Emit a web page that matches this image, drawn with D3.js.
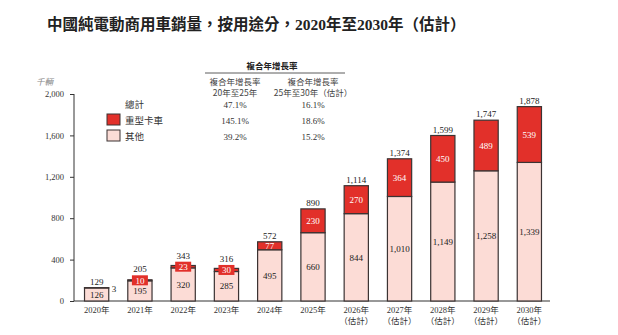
<!DOCTYPE html>
<head>
	<meta charset="utf-8">
	<script src="https://d3js.org/d3.v7.min.js"></script>
	<style>
		body { margin: 0; background: #fff; }
		text { font-family: "Liberation Serif", "Noto Sans CJK TC", serif; }
	</style>
</head>
<body>
	<div id="chart"></div>
	<script>

	var width = 618,
	height = 335;

	// data
	var years = ["2020年", "2021年", "2022年", "2023年", "2024年", "2025年", "2026年", "2027年", "2028年", "2029年", "2030年"];
	var estimated = [false, false, false, false, false, false, true, true, true, true, true];
	var heavyTrucks = [3, 10, 23, 30, 77, 230, 270, 364, 450, 489, 539];
	var others = [126, 195, 320, 285, 495, 660, 844, 1010, 1149, 1258, 1339];
	var totals = [129, 205, 343, 316, 572, 890, 1114, 1374, 1599, 1747, 1878];
	var yTicks = [0, 400, 800, 1200, 1600, 2000];

	var cagrRows = ["總計", "重型卡車", "其他"];
	var cagr2025 = ["47.1%", "145.1%", "39.2%"];
	var cagr2030 = ["16.1%", "18.6%", "15.2%"];

	var red = "#e2302a", pink = "#fcdcd6", edge = "#3b3333";
	var cjk = '"Noto Sans CJK TC", sans-serif';

	var svg = d3.select("#chart").append("svg")
	  .attr("width", width)
	  .attr("height", height);

	// title (serif digits, CJK fallback)
	svg.append("text")
		.attr("x", 47).attr("y", 30)
		.style("font-family", '"Liberation Serif", "Noto Sans CJK TC", serif')
		.style("font-size", "15.5px")
		.style("font-weight", "bold")
		.attr("fill", "#222")
		.text("中國純電動商用車銷量，按用途分，2020年至2030年（估計）");

	// scales
	var x = d3.scaleBand()
		.domain(years)
		.range([75, 551])
		.paddingInner(0.44)
		.paddingOuter(0.22);

	var y = d3.scaleLinear()
		.domain([0, 2000])
		.range([301, 94]);

	var fmt = d3.format(",");

	// y axis
	var yAxis = svg.append("g")
		.attr("transform", "translate(74,0)")
		.call(d3.axisLeft(y).tickValues(yTicks).tickSize(4).tickPadding(6).tickFormat(fmt));
	yAxis.select(".domain").attr("stroke", "#333").attr("d", "M0," + y(0) + "V" + y(2000));
	yAxis.selectAll(".tick line").attr("stroke", "#333");
	yAxis.selectAll(".tick text").style("font-size", "8.5px").attr("fill", "#333");

	svg.append("text")
		.attr("x", 36).attr("y", 85)
		.style("font-family", cjk)
		.style("font-size", "8.5px")
		.style("font-style", "italic")
		.attr("fill", "#888")
		.text("千輛");

	// x axis line
	svg.append("line")
		.attr("x1", 74).attr("x2", 550)
		.attr("y1", y(0)).attr("y2", y(0))
		.attr("stroke", "#333");

	var rows = years.map(function(d, i) {
		return { year: d, est: estimated[i], heavy: heavyTrucks[i], other: others[i], total: totals[i] };
	});

	var boxH = 10;
	function boxed(d) { return d.heavy >= 10 && d.heavy < 50; }
	function heavyMid(d) { return y(d.other + d.heavy / 2); }

	var bars = svg.append("g").selectAll("g")
		.data(rows)
		.join("g");

	// other (bottom)
	bars.append("rect")
		.attr("x", d => x(d.year))
		.attr("width", x.bandwidth())
		.attr("y", d => y(d.other))
		.attr("height", d => y(0) - y(d.other))
		.attr("fill", pink)
		.attr("stroke", edge)
		.attr("stroke-width", 1.2);

	// heavy trucks (top)
	bars.append("rect")
		.attr("x", d => x(d.year))
		.attr("width", x.bandwidth())
		.attr("y", d => y(d.other + d.heavy))
		.attr("height", d => y(d.other) - y(d.other + d.heavy))
		.attr("fill", red)
		.attr("stroke", edge)
		.attr("stroke-width", 1.2);

	// label boxes for thin red segments
	bars.filter(boxed)
		.append("rect")
		.attr("x", d => x(d.year) + x.bandwidth() / 2 - 8)
		.attr("y", d => heavyMid(d) - boxH / 2)
		.attr("width", 16)
		.attr("height", boxH)
		.attr("fill", red);

	// heavy labels
	bars.filter(d => d.heavy >= 10)
		.append("text")
		.attr("x", d => x(d.year) + x.bandwidth() / 2)
		.attr("y", d => heavyMid(d) + 3.2)
		.attr("text-anchor", "middle")
		.style("font-size", "9px")
		.attr("fill", "#fff")
		.text(d => fmt(d.heavy));

	bars.filter(d => d.heavy < 10)
		.append("text")
		.attr("x", d => x(d.year) + x.bandwidth() + 3)
		.attr("y", d => y(d.total) + 4)
		.style("font-size", "9px")
		.attr("fill", "#222")
		.text(d => fmt(d.heavy));

	// other labels
	bars.append("text")
		.attr("x", d => x(d.year) + x.bandwidth() / 2)
		.attr("y", d => y(d.other / 2) + 3.2)
		.attr("text-anchor", "middle")
		.style("font-size", "9px")
		.attr("fill", "#222")
		.text(d => fmt(d.other));

	// totals
	bars.append("text")
		.attr("x", d => x(d.year) + x.bandwidth() / 2)
		.attr("y", function(d) {
			var top = y(d.other + d.heavy);
			if (boxed(d)) top = Math.min(top, heavyMid(d) - boxH / 2);
			return top - 3;
		})
		.attr("text-anchor", "middle")
		.style("font-size", "9px")
		.attr("fill", "#222")
		.text(d => fmt(d.total));

	// x labels
	bars.append("text")
		.attr("x", d => x(d.year) + x.bandwidth() / 2)
		.attr("y", 313)
		.attr("text-anchor", "middle")
		.style("font-size", "8.5px")
		.attr("fill", "#333")
		.text(d => d.year);

	bars.filter(d => d.est)
		.append("text")
		.attr("x", d => x(d.year) + x.bandwidth() / 2)
		.attr("y", 324)
		.attr("text-anchor", "middle")
		.style("font-family", cjk)
		.style("font-size", "8.5px")
		.attr("fill", "#333")
		.text("（估計）");

	// legend
	var legend = svg.append("g");
	var legendColors = [null, red, pink];
	var legendY = [104, 120, 136];
	cagrRows.forEach(function(name, i) {
		if (legendColors[i]) {
			legend.append("rect")
				.attr("x", 107).attr("y", legendY[i] - 6)
				.attr("width", 13).attr("height", 11)
				.attr("fill", legendColors[i])
				.attr("stroke", edge)
				.attr("stroke-width", 1);
		}
		legend.append("text")
			.attr("x", 125).attr("y", legendY[i] + 3.5)
			.style("font-family", cjk)
			.style("font-size", "9.5px")
			.attr("fill", "#333")
			.text(name);
	});

	// CAGR table
	svg.append("text")
		.attr("x", 272).attr("y", 69)
		.attr("text-anchor", "middle")
		.style("font-family", cjk)
		.style("font-size", "8.5px")
		.style("font-weight", "bold")
		.attr("fill", "#222")
		.text("複合年增長率");
	svg.append("line")
		.attr("x1", 205).attr("x2", 345)
		.attr("y1", 73).attr("y2", 73)
		.attr("stroke", "#333")
		.attr("stroke-width", 0.8);

	var colX = [235, 313];
	var colHead = [["複合年增長率", "20年至25年"], ["複合年增長率", "25年至30年（估計）"]];
	var colVals = [cagr2025, cagr2030];
	colX.forEach(function(cx, j) {
		colHead[j].forEach(function(t, k) {
			svg.append("text")
				.attr("x", cx).attr("y", 85 + k * 11)
				.attr("text-anchor", "middle")
				.style("font-family", cjk)
				.style("font-size", "8.5px")
				.attr("fill", "#444")
				.text(t);
		});
		colVals[j].forEach(function(v, i) {
			svg.append("text")
				.attr("x", cx).attr("y", legendY[i] + 3.5)
				.attr("text-anchor", "middle")
				.style("font-size", "9px")
				.attr("fill", "#333")
				.text(v);
		});
	});
</script>
</body>
